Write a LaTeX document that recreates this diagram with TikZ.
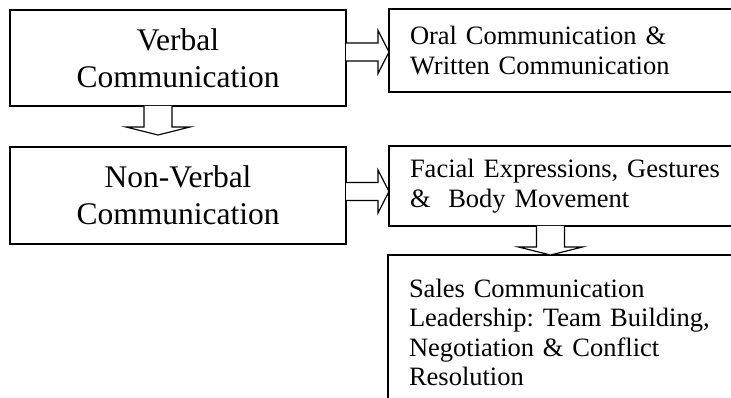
\documentclass[tikz,border=0pt]{standalone}
\usepackage{fontspec}
\setmainfont{Liberation Serif}
\usetikzlibrary{calc}
\frenchspacing

\tikzset{
  box/.style={draw, line width=1.6pt, inner sep=0pt, outer sep=0pt},
  bigbox/.style={box, minimum width=336pt, align=center,
    font=\fontsize{31.5}{37}\selectfont},
  listbox/.style={box, inner xsep=21pt, text width=320pt, align=left,
    font=\fontsize{26.5}{29.5}\selectfont},
  blk/.style={draw, line width=1.2pt, line join=miter, fill=white},
}

% hollow block arrow pointing right: #1 start (on a box edge), #2 tip
\newcommand\rightblock[2]{%
  \draw[blk] let \p1=(#1), \p2=(#2) in
    (\x1,\y1+9pt) -- (\x2-11pt,\y1+9pt) -- (\x2-11pt,\y1+21.5pt) -- (\x2,\y1)
    -- (\x2-11pt,\y1-21.5pt) -- (\x2-11pt,\y1-9pt) -- (\x1,\y1-9pt);}
% hollow block arrow pointing down: #1 start (on a box edge), #2 tip
\newcommand\downblock[2]{%
  \draw[blk] let \p1=(#1), \p2=(#2) in
    (\x1-14pt,\y1) -- (\x1-14pt,\y2+8pt) -- (\x1-32pt,\y2+8pt) -- (\x1,\y2)
    -- (\x1+32pt,\y2+8pt) -- (\x1+14pt,\y2+8pt) -- (\x1+14pt,\y1);}

\begin{document}
\begin{tikzpicture}[x=1pt, y=-1pt]
  \useasboundingbox (0,0) rectangle (731,398);
  \clip (0,0) rectangle (731,398);

  % left column
  \node[bigbox, minimum height=96pt] (verbal) at (178,58)
    {Verbal\\Communication};
  \node[bigbox, minimum height=97pt] (nonverbal) at (178,195.5)
    {Non-Verbal\\Communication};

  % right column
  \node[listbox, minimum height=83pt] (oral) at (570,50.5)
    {Oral Communication \&\\Written Communication};
  \node[listbox, minimum height=80pt] (facial) at (570,186)
    {Facial Expressions, Gestures\\\&~ Body Movement};
  \node[listbox, inner ysep=24pt, anchor=north] (sales) at (569,255)
    {Sales Communication\\Leadership: Team Building,\\Negotiation \& Conflict\\Resolution\rule[-40pt]{0pt}{40pt}};

  % connectors
  \coordinate (a1) at ($(verbal.east)+(0,-6)$);
  \rightblock{a1}{oral.west |- a1}

  \coordinate (a2) at ($(verbal.south)+(-20,0)$);
  \coordinate (t2) at ($(nonverbal.north)+(-20,-12)$);
  \downblock{a2}{t2}

  \coordinate (a3) at ($(nonverbal.east)+(0,-4)$);
  \rightblock{a3}{facial.west |- a3}

  \coordinate (a4) at ($(facial.south)+(-19.5,0)$);
  \coordinate (t4) at (a4 |- sales.north);
  \downblock{a4}{t4}
\end{tikzpicture}
\end{document}
